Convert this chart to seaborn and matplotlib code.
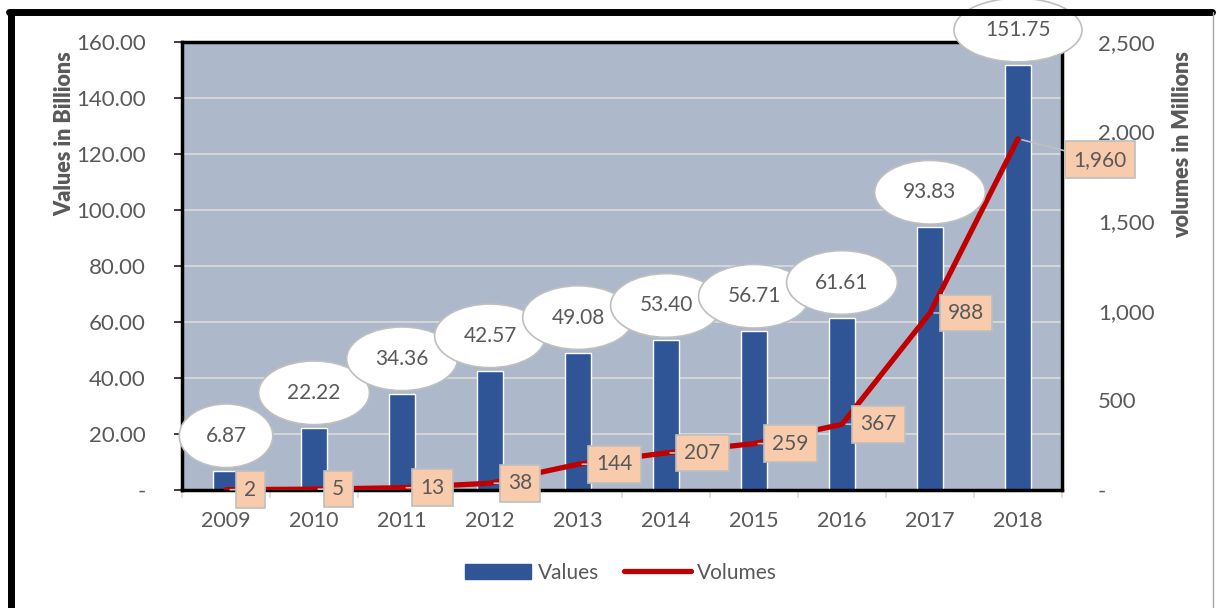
import matplotlib.pyplot as plt
import matplotlib.lines as mlines
import matplotlib.patches as patches
from matplotlib.ticker import FuncFormatter, MultipleLocator
import seaborn as sns
import numpy as np
import pandas as pd

years = ['2009', '2010', '2011', '2012', '2013', '2014', '2015', '2016', '2017', '2018']
values = [6.87, 22.22, 34.36, 42.57, 49.08, 53.40, 56.71, 61.61, 93.83, 151.75]
volumes = [2, 5, 13, 38, 144, 207, 259, 367, 988, 1960]

col_bar = '#2F5597'
col_line = '#C00000'
col_bg = '#ADB9CA'
col_text = '#595959'

sns.set_theme(style='white')
plt.rcParams['font.family'] = ['Lato', 'DejaVu Sans']

df = pd.DataFrame({'year': years, 'values': values, 'volumes': volumes})

fig = plt.figure(figsize=(12.17, 6.08), dpi=100)
ax = fig.add_axes([0.1496, 0.194, 0.7230, 0.737])
ax.set_facecolor(col_bg)

sns.barplot(data=df, x='year', y='values', color=col_bar, width=0.29,
            saturation=1, ax=ax, zorder=2)
ax.set_ylim(0, 160)
ax.set_xlim(-0.5, len(years) - 0.5)
ax.yaxis.set_major_locator(MultipleLocator(20))
ax.yaxis.set_major_formatter(FuncFormatter(lambda v, p: '-' if v == 0 else f'{v:.2f}'))
ax.grid(axis='y', color='#D9D9D9', lw=1.3, zorder=1)
ax.set_axisbelow(True)
ax.set_xlabel('')
ax.set_ylabel('Values in Billions', fontsize=15.5, fontweight='heavy', color=col_text,
              loc='top')
ax.yaxis.set_label_coords(-0.121, 0.98)
ax.tick_params(axis='y', labelsize=16, labelcolor=col_text, left=False, pad=20)
ax.tick_params(axis='x', labelsize=15.5, labelcolor=col_text, bottom=False, pad=9)
ax.set_xticks(np.arange(-0.5, len(years)), minor=True)
ax.tick_params(axis='x', which='minor', bottom=True, length=6, color='#D9D9D9', width=1.2)
for s in ax.spines.values():
    s.set_color('black')
    s.set_linewidth(2.5)

ax2 = ax.twinx()
sns.lineplot(x=np.arange(len(years)), y=df['volumes'], color=col_line, lw=3.8, ax=ax2, zorder=3)
ax2.set_ylim(0, 2500)
ax2.set_xlim(-0.5, len(years) - 0.5)
ax2.yaxis.set_major_locator(MultipleLocator(500))
ax2.yaxis.set_major_formatter(FuncFormatter(lambda v, p: '-' if v == 0 else f'{v:,.0f}'))
ax2.set_ylabel('volumes in Millions', fontsize=15.5, fontweight='heavy', color=col_text,
               loc='top')
ax2.yaxis.set_label_coords(1.125, 0.98)
ax2.tick_params(axis='y', labelsize=16, labelcolor=col_text, right=False, pad=20)
ax2.grid(False)
for s in ax2.spines.values():
    s.set_visible(False)

# value labels in ellipses
for i, v in enumerate(values):
    ax2.annotate(f'{v:.2f}', xy=(i, v / 160 * 2500), xytext=(0, 35),
                 textcoords='offset pixels', ha='center', va='center',
                 fontsize=15, color=col_text, zorder=5,
                 bbox=dict(boxstyle='ellipse,pad=0.6', fc='white', ec='#BFBFBF', lw=1.2))

# volume labels in boxes
for i, v in enumerate(volumes):
    dx, dy = 18, 0
    if i == len(volumes) - 1:
        dx, dy = 55, -21
    ax2.annotate(f'{v:,}', xy=(i, v), xytext=(dx, dy),
                 textcoords='offset pixels', ha='left', va='center',
                 fontsize=15, color=col_text, zorder=6,
                 bbox=dict(boxstyle='square,pad=0.4', fc='#F8CBAD', ec='#BFBFBF', lw=1.2),
                 arrowprops=dict(arrowstyle='-', color='#BFBFBF', lw=1.2,
                                 shrinkA=0, shrinkB=3))

handles = [patches.Patch(color=col_bar, label='Values'),
           mlines.Line2D([], [], color=col_line, lw=3.8, label='Volumes')]
fig.legend(handles=handles, loc='center', bbox_to_anchor=(0.51, 0.058), ncol=2,
           frameon=False, fontsize=15, labelcolor=col_text, handlelength=3.2,
           handletextpad=0.3, columnspacing=1.2)

# outer frame
fig.add_artist(mlines.Line2D([0.009, 0.009], [0, 0.98], transform=fig.transFigure,
                             color='black', lw=5))
fig.add_artist(mlines.Line2D([0.007, 0.996], [0.98, 0.98], transform=fig.transFigure,
                             color='black', lw=5))
fig.add_artist(mlines.Line2D([0.997, 0.997], [0, 0.98], transform=fig.transFigure,
                             color='#A6A6A6', lw=1))

plt.savefig('out.png', dpi=100)
